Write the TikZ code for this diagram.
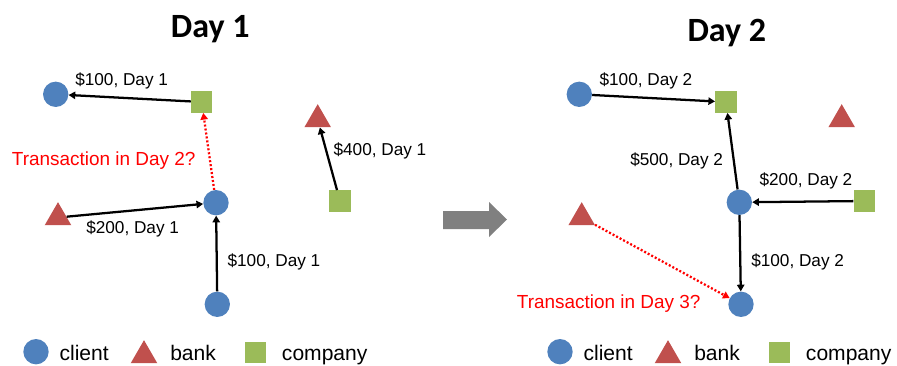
\documentclass[tikz,border=0pt]{standalone}
\usepackage{fontspec}
\setmainfont{Liberation Sans}
\newfontfamily\titlefont{Carlito}
\usetikzlibrary{arrows.meta, shapes.geometric}

\definecolor{clientblue}{RGB}{79,129,189}
\definecolor{bankred}{RGB}{192,80,77}
\definecolor{companygreen}{RGB}{155,187,89}

\tikzset{
  client/.style={circle, fill=clientblue, minimum size=19pt, inner sep=0pt},
  bank/.style={regular polygon, regular polygon sides=3, fill=bankred, minimum size=23pt, inner sep=0pt},
  company/.style={rectangle, fill=companygreen, minimum size=16pt, inner sep=0pt},
  flow/.style={line width=1.7pt, -{Triangle[length=5pt,width=5.5pt]}},
  guess/.style={line width=1.7pt, red, dash pattern=on 1.5pt off 1.5pt, -{Triangle[length=5pt,width=5.5pt]}},
  amount/.style={anchor=base west, inner sep=0pt, font=\fontsize{12.9}{14}\selectfont},
  question/.style={anchor=base west, inner sep=0pt, text=red, font=\fontsize{14.2}{16}\selectfont},
  legendtext/.style={anchor=base west, inner sep=0pt, font=\fontsize{15.8}{18}\selectfont},
  daytitle/.style={anchor=base west, inner sep=0pt, font=\titlefont\bfseries\fontsize{25.5}{28}\selectfont}
}

\begin{document}
\begin{tikzpicture}[x=0.75pt, y=-0.75pt]
  \useasboundingbox (0,0) rectangle (897,365);

  % Titles
  \node[daytitle] (title1) at (170.7,37.7) {Day 1};
  \node[daytitle] (title2) at (687.3,41.7) {Day 2};

  % Day 1 graph
  \node[client] (c1a) at (55.7,94.3) {};
  \node[company] (f1a) at (201.7,102) {};
  \node[bank] (b1a) at (317.7,119.5) {};
  \node[bank] (b1b) at (58,217.5) {};
  \node[client] (c1b) at (216,202.7) {};
  \node[company] (f1b) at (340,201) {};
  \node[client] (c1c) at (217.3,304.3) {};

  \draw[flow] (f1a) -- (c1a);
  \draw[flow] (b1b) -- (c1b);
  \draw[flow] (c1c) -- (c1b);
  \draw[flow] (f1b) -- (b1a);
  \draw[guess] (c1b) -- (f1a);

  \node[amount] (t1a) at (75,85) {\$100, Day 1};
  \node[amount] (t1b) at (333.3,155.7) {\$400, Day 1};
  \node[amount] (t1c) at (86,233.3) {\$200, Day 1};
  \node[amount] (t1d) at (227.3,266) {\$100, Day 1};
  \node[question] (q1) at (11.7,165.7) {Transaction in Day 2?};

  % Arrow between the days
  \fill[gray] (443,211) -- (489,211) -- (489,202) -- (507,219.5)
    -- (489,237) -- (489,229) -- (443,229) -- cycle;

  % Day 2 graph
  \node[client] (c2a) at (579.3,94.3) {};
  \node[company] (f2a) at (726,102) {};
  \node[bank] (b2a) at (841.7,119.5) {};
  \node[bank] (b2b) at (581.7,217.5) {};
  \node[client] (c2b) at (739.3,202.3) {};
  \node[company] (f2b) at (864.3,201) {};
  \node[client] (c2c) at (741,304.3) {};

  \draw[flow] (c2a) -- (f2a);
  \draw[flow] (c2b) -- (f2a);
  \draw[flow] (f2b) -- (c2b);
  \draw[flow] (c2b) -- (c2c);
  \draw[guess] (b2b) -- (c2c);

  \node[amount] (t2a) at (599.3,85) {\$100, Day 2};
  \node[amount] (t2b) at (630,165) {\$500, Day 2};
  \node[amount] (t2c) at (759.3,185.7) {\$200, Day 2};
  \node[amount] (t2d) at (751,266) {\$100, Day 2};
  \node[question] (q2) at (516.7,308.3) {Transaction in Day 3?};

  % Legends
  \foreach \lx/\name in {0/l, 524/r} {
    \begin{scope}[xshift=\lx*0.75pt]
      \node[client] (\name client) at (36,351.7) {};
      \node[legendtext] (\name clienttext) at (59.3,360) {client};
      \node[bank] (\name bank) at (144,355.5) {};
      \node[legendtext] (\name banktext) at (170,360) {bank};
      \node[company] (\name company) at (255.7,352.7) {};
      \node[legendtext] (\name companytext) at (281.7,360) {company};
    \end{scope}
  }
\end{tikzpicture}
\end{document}
